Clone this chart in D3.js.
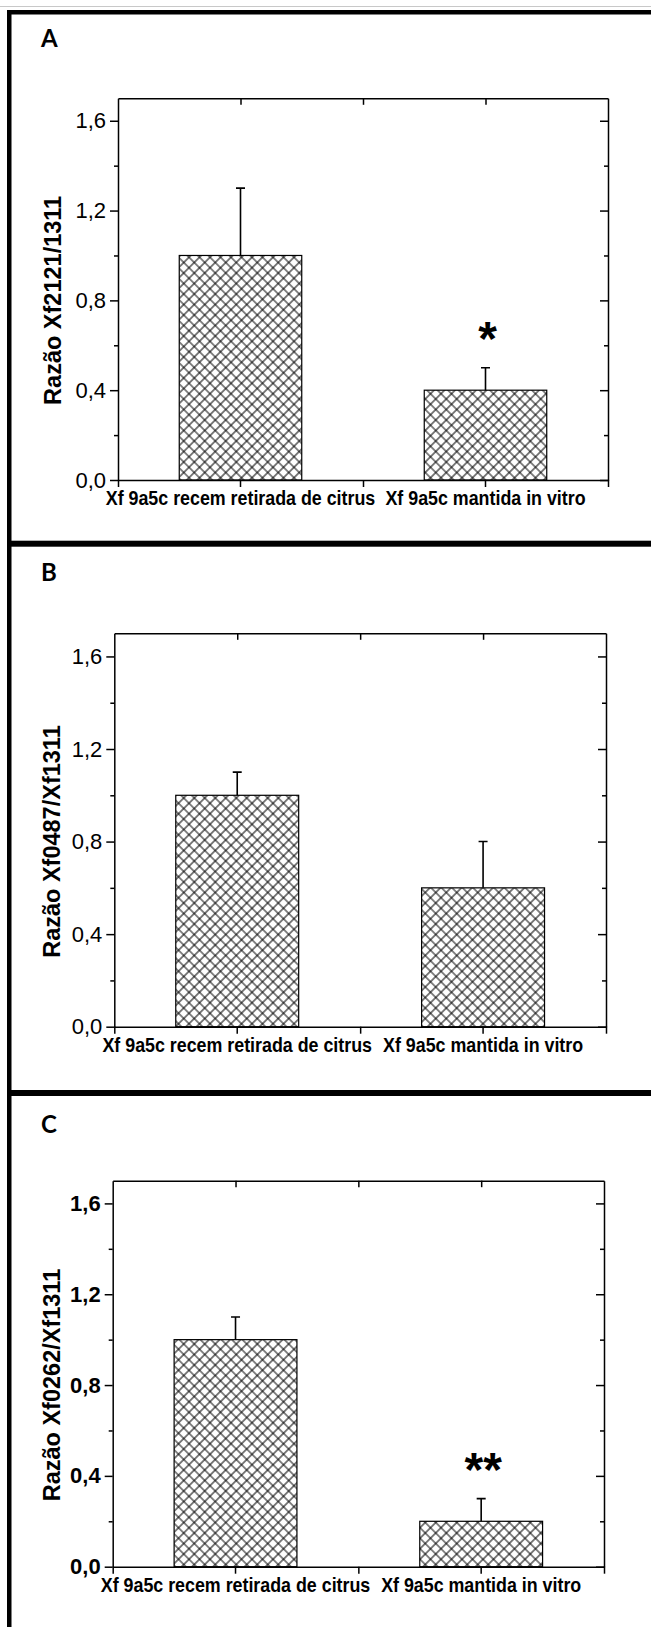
<!DOCTYPE html>
<html>
<head>
<meta charset="utf-8">
<script src="https://cdn.jsdelivr.net/npm/d3@7"></script>
<style>
body { margin: 0; background: #fff; }
</style>
</head>
<body>
<div id="chart-area"></div>
<script>
// data
var categories = ["Xf 9a5c recem retirada de citrus", "Xf 9a5c mantida in vitro"];
var panelLetters = ["A", "B", "C"];
var yTitles = ["Razão Xf2121/1311", "Razão Xf0487/Xf1311", "Razão Xf0262/Xf1311"];

var meansA = [1.0, 0.4], errA = [0.3, 0.1], sigA = ["", "*"];
var meansB = [1.0, 0.6], errB = [0.1, 0.2], sigB = ["", ""];
var meansC = [1.0, 0.2], errC = [0.1, 0.1], sigC = ["", "**"];

var yTicks = [0, 0.4, 0.8, 1.2, 1.6];
var yMinor = [0.2, 0.6, 1.0, 1.4];
var yMax = 1.7;

var width = 651, height = 1627;

// where each panel sits on the page
var layout = [
	{x0: 118, x1: 608, yTop: 98.3, y0: 480, letterY: 47, titleX: 61, boldTicks: false},
	{x0: 114.3, x1: 606, yTop: 633.3, y0: 1026.7, letterY: 581, titleX: 60, boldTicks: false},
	{x0: 112.7, x1: 604, yTop: 1180.7, y0: 1566.7, letterY: 1133, titleX: 60, boldTicks: true}
];

var svg = d3.select("#chart-area")
	.append("svg")
	.attr("width", width)
	.attr("height", height);

svg.append("rect").attr("width", width).attr("height", height).attr("fill", "#fff");

// cross hatch fill
var s = 10.5 / Math.SQRT2;
var pat = svg.append("defs").append("pattern")
	.attr("id", "hatch")
	.attr("patternUnits", "userSpaceOnUse")
	.attr("width", s)
	.attr("height", s)
	.attr("patternTransform", "rotate(45)");
pat.append("rect").attr("width", s).attr("height", s).attr("fill", "#fff");
pat.append("path")
	.attr("d", "M0," + s / 2 + "H" + s + "M" + s / 2 + ",0V" + s)
	.attr("stroke", "#000")
	.attr("stroke-width", 1);

// table borders round the three panels
svg.append("line").attr("x1", 0).attr("x2", width).attr("y1", 6.5).attr("y2", 6.5)
	.attr("stroke", "#c8c8c8").attr("stroke-width", 1);
svg.append("rect").attr("x", 7).attr("y", 10).attr("width", width - 7).attr("height", 4.5).attr("fill", "#000");
svg.append("rect").attr("x", 7).attr("y", 540.7).attr("width", width - 7).attr("height", 6).attr("fill", "#000");
svg.append("rect").attr("x", 7).attr("y", 1090).attr("width", width - 7).attr("height", 6).attr("fill", "#000");
svg.append("rect").attr("x", 7).attr("y", 10).attr("width", 4.5).attr("height", height - 10).attr("fill", "#000");

var loc = d3.formatLocale({decimal: ",", thousands: ".", grouping: [3], currency: ["", ""]});
var fmt = loc.format(".1f");

function drawPanel(i, means, errs, sigs) {
	var lay = layout[i];

	var x = d3.scaleBand()
		.domain(categories)
		.range([lay.x0, lay.x1])
		.paddingInner(0.5)
		.paddingOuter(0.25);

	var y = d3.scaleLinear()
		.domain([0, yMax])
		.range([lay.y0, lay.yTop]);

	var centers = categories.map(function (c) { return x(c) + x.bandwidth() / 2; });
	var edgeTicks = [lay.x0, (centers[0] + centers[1]) / 2, lay.x1];

	var g = svg.append("g");

	// panel letter
	svg.append("text")
		.attr("x", 41)
		.attr("y", lay.letterY)
		.style("font-family", "Lato, 'Open Sans', sans-serif")
		.style("font-weight", "bold")
		.style("font-size", "24px")
		.text(panelLetters[i]);

	// bars
	g.selectAll(".bar")
		.data(means)
		.enter()
		.append("rect")
		.attr("class", "bar")
		.attr("x", function (d, j) { return x(categories[j]); })
		.attr("width", x.bandwidth())
		.attr("y", function (d) { return y(d); })
		.attr("height", function (d) { return lay.y0 - y(d); })
		.attr("fill", "url(#hatch)")
		.attr("stroke", "#000")
		.attr("stroke-width", 1.2);

	// error bars (upper only)
	g.selectAll(".err")
		.data(means)
		.enter()
		.append("path")
		.attr("class", "err")
		.attr("d", function (d, j) {
			var cx = centers[j], yt = y(d + errs[j]);
			return "M" + cx + "," + y(d) + "V" + yt + "M" + (cx - 4.5) + "," + yt + "H" + (cx + 4.5);
		})
		.attr("fill", "none")
		.attr("stroke", "#000")
		.attr("stroke-width", 1.6);

	// significance stars
	g.selectAll(".sig")
		.data(sigs)
		.enter()
		.append("text")
		.attr("class", "sig")
		.attr("x", function (d, j) { return centers[j] + 2; })
		.attr("y", function (d, j) { return y(means[j] + errs[j]) - 40 + 0.57 * 48; })
		.attr("text-anchor", "middle")
		.style("font-family", "'Liberation Sans', Arial, sans-serif")
		.style("font-weight", "bold")
		.style("font-size", "48px")
		.text(function (d) { return d; });

	var tickFont = function (sel) {
		sel.attr("font-family", "'Liberation Sans', Arial, sans-serif")
			.attr("font-size", 22)
			.attr("font-weight", lay.boldTicks ? "bold" : "normal");
		sel.selectAll("path,line").attr("stroke", "#000").attr("stroke-width", 1.5);
		sel.selectAll("text").attr("fill", "#000");
	};

	// left axis
	g.append("g")
		.attr("transform", "translate(" + lay.x0 + ",0)")
		.call(d3.axisLeft(y).tickValues(yTicks).tickSize(8).tickSizeOuter(0).tickPadding(4).tickFormat(fmt))
		.call(tickFont);
	g.append("g")
		.attr("transform", "translate(" + lay.x0 + ",0)")
		.call(d3.axisLeft(y).tickValues(yMinor).tickSize(4).tickFormat(""))
		.call(tickFont)
		.select(".domain").remove();

	// right axis, ticks pointing in
	g.append("g")
		.attr("transform", "translate(" + lay.x1 + ",0)")
		.call(d3.axisLeft(y).tickValues(yTicks).tickSize(8).tickSizeOuter(0).tickFormat(""))
		.call(tickFont);
	g.append("g")
		.attr("transform", "translate(" + lay.x1 + ",0)")
		.call(d3.axisLeft(y).tickValues(yMinor).tickSize(4).tickFormat(""))
		.call(tickFont)
		.select(".domain").remove();

	// top axis, ticks pointing in
	var xl = d3.scaleLinear().domain([lay.x0, lay.x1]).range([lay.x0, lay.x1]);
	g.append("g")
		.attr("transform", "translate(0," + lay.yTop + ")")
		.call(d3.axisBottom(xl).tickValues([centers[0], edgeTicks[1], centers[1]]).tickSize(6.5).tickSizeOuter(0).tickFormat(""))
		.call(tickFont);

	// bottom axis with category labels
	g.append("g")
		.attr("transform", "translate(0," + lay.y0 + ")")
		.call(d3.axisBottom(xl).tickValues(edgeTicks).tickSize(7).tickSizeOuter(0).tickFormat(""))
		.call(tickFont);
	var bx = g.append("g")
		.attr("transform", "translate(0," + lay.y0 + ")")
		.call(d3.axisBottom(x).tickSize(7).tickSizeOuter(0).tickPadding(3.6))
		.call(tickFont)
		.attr("font-weight", "bold")
		.attr("font-size", 20.5);
	bx.select(".domain").remove();
	// the original labels are set in a narrow face
	bx.selectAll("text").attr("transform", "scale(0.87,1)");

	// y axis title
	svg.append("text")
		.attr("transform", "translate(" + lay.titleX + "," + y(0.8) + ") rotate(-90)")
		.attr("text-anchor", "middle")
		.style("font-family", "'Liberation Sans', Arial, sans-serif")
		.style("font-weight", "bold")
		.style("font-size", "23.5px")
		.text(yTitles[i]);
}

drawPanel(0, meansA, errA, sigA);
drawPanel(1, meansB, errB, sigB);
drawPanel(2, meansC, errC, sigC);
</script>
</body>
</html>
